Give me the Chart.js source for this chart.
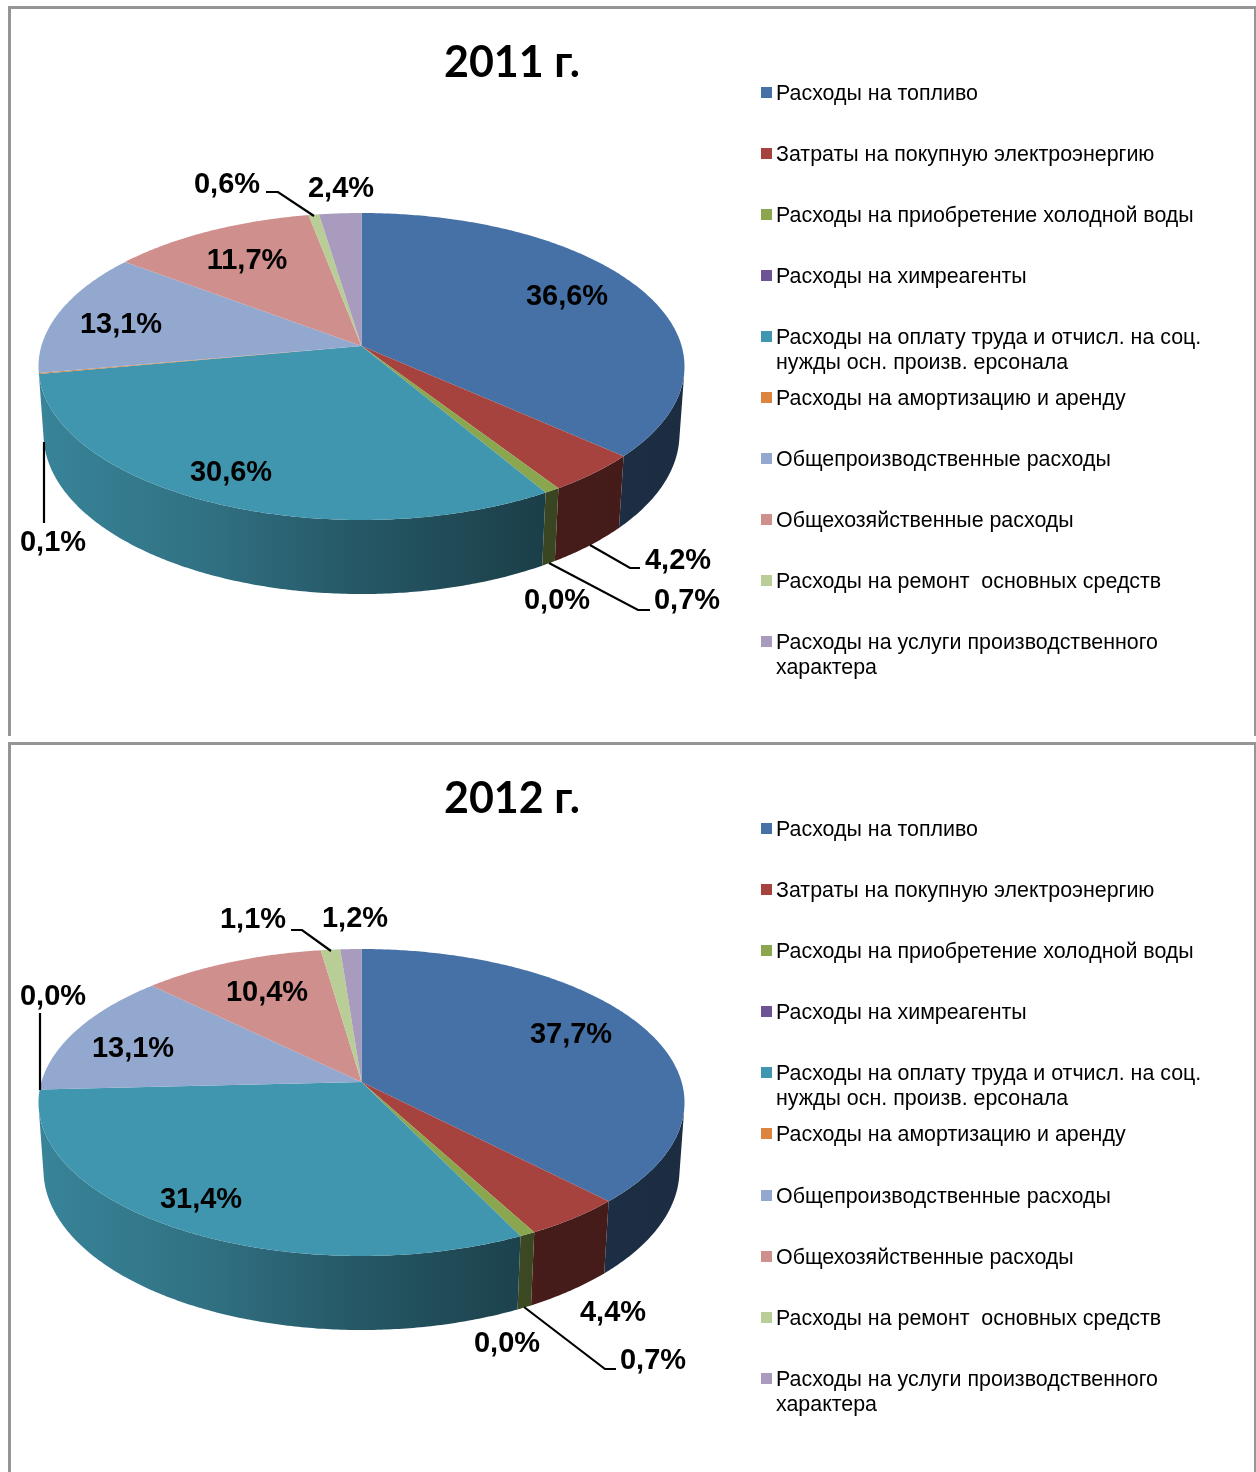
<!DOCTYPE html>
<html lang="ru"><head><meta charset="utf-8">
<style>
html,body{margin:0;padding:0;background:#fff;width:1256px;height:1472px;overflow:hidden}
.panel{position:absolute;left:8px;width:1243px;height:727px;border:3px solid #959595;border-bottom:none}
canvas{position:absolute;left:0}
</style>
<script src="https://cdn.jsdelivr.net/npm/chart.js@4/dist/chart.umd.min.js"></script>
</head><body>
<div class="panel" style="top:6px"></div>
<div class="panel" style="top:742px"></div>
<canvas id="c2011" width="1256" height="736" style="top:0"></canvas>
<canvas id="c2012" width="1256" height="736" style="top:736px"></canvas>
<script>
const categories = [
  'Расходы на топливо',
  'Затраты на покупную электроэнергию',
  'Расходы на приобретение холодной воды',
  'Расходы на химреагенты',
  'Расходы на оплату труда и отчисл. на соц. нужды осн. произв. ерсонала',
  'Расходы на амортизацию и аренду',
  'Общепроизводственные расходы',
  'Общехозяйственные расходы',
  'Расходы на ремонт  основных средств',
  'Расходы на услуги производственного характера'
];
const legendLines = [
  ['Расходы на топливо'],
  ['Затраты на покупную электроэнергию'],
  ['Расходы на приобретение холодной воды'],
  ['Расходы на химреагенты'],
  ['Расходы на оплату труда и отчисл. на соц.', 'нужды осн. произв. ерсонала'],
  ['Расходы на амортизацию и аренду'],
  ['Общепроизводственные расходы'],
  ['Общехозяйственные расходы'],
  ['Расходы на ремонт  основных средств'],
  ['Расходы на услуги производственного', 'характера']
];
const values2011 = [36.6, 4.2, 0.7, 0.0, 30.6, 0.1, 13.1, 11.7, 0.6, 2.4];
const values2012 = [37.7, 4.4, 0.7, 0.0, 31.4, 0.0, 13.1, 10.4, 1.1, 1.2];
const colors = ['#4571A6','#A6433F','#8AA64E','#6F5495','#4096AE','#DB843D','#92A8CE','#CF8F8D','#B9CD96','#A99BBD'];

// Layout only: label centres and leader lines, in panel coordinates
const labelPos2011 = [[567,297],[678,561],[687,601],[557,601],[231,473],[53,543],[121,325],[247,261],[227,185],[341,189]];
const labelPos2012 = [[571,299],[613,577],[653,625],[507,608],[201,464],[53,261],[133,313],[267,257],[253,184],[355,183]];
const leaders2011 = [[[590,545],[630,568],[640,568]],[[549,563],[638,610],[650,610]],[[44,442],[44,523]],[[266,192],[278,192],[314,216]]];
const leaders2012 = [[[524,571],[605,633],[616,633]],[[40,277],[40,354]],[[291,194],[302,194],[331,215]]];
const legendY2011 = [93,154,215,276,337,398,459,520,581,642];
const legendY2012 = [93,154,215,276,337,398,460,521,582,643];

const GEO = {ryTop:0.4752, kTop:-0.1336, rxBottom:0.9845, ryBottom:0.4954, dyBottom:67.5, kBottom:-0.13};

function shade(hex, f){
  const n = parseInt(hex.slice(1),16);
  return `rgb(${Math.round((n>>16&255)*f)},${Math.round((n>>8&255)*f)},${Math.round((n&255)*f)})`;
}
function rim(el, a, bottom){
  const x = Math.cos(a), y = Math.sin(a), R = el.outerRadius;
  const k = bottom ? GEO.kBottom : GEO.kTop;
  const rx = R * (bottom ? GEO.rxBottom : 1) * Math.sqrt(1-k*k);
  const ry = R * (bottom ? GEO.ryBottom : GEO.ryTop);
  const cy = el.y + (bottom ? GEO.dyBottom : 0);
  return [el.x + rx*x/(1+k*y), cy + ry*(y+k)/(1+k*y)];
}
class Pie3DArc extends Chart.ArcElement {
  static id = 'pie3dArc';
  drawWall(ctx){
    if(!(this.endAngle>this.startAngle)) return;
    const R = this.outerRadius, g = ctx.createLinearGradient(this.x-R,0,this.x+R,0);
    const c = this.options.backgroundColor;
    [[0,.88],[.25,.76],[.5,.58],[.78,.42],[1,.4]].forEach(([t,f])=>g.addColorStop(t,shade(c,f)));
    const s = this.startAngle, e = this.endAngle, n = Math.max(2, Math.ceil((e-s)/0.01));
    ctx.beginPath();
    for(let i=0;i<n;i++){
      const a0 = s+(e-s)*i/n, a1 = s+(e-s)*(i+1)/n;
      const q = [rim(this,a0,false), rim(this,a1,false), rim(this,a1,true), rim(this,a0,true)];
      let area = 0;
      q.forEach((p,j)=>{const r=q[(j+1)%4]; area += p[0]*r[1]-r[0]*p[1];});
      if(area>=0) continue; // back-facing part of the wall is hidden
      q.forEach(([x,y],j)=> j?ctx.lineTo(x,y):ctx.moveTo(x,y));
      ctx.closePath();
    }
    ctx.fillStyle = g; ctx.fill();
  }
  draw(ctx){
    if(!(this.endAngle>this.startAngle)) return;
    const apex = [this.x, this.y + this.outerRadius*GEO.ryTop*GEO.kTop];
    const s = this.startAngle, e = this.endAngle, n = Math.max(2, Math.ceil((e-s)/0.01));
    ctx.beginPath(); ctx.moveTo(apex[0],apex[1]);
    for(let i=0;i<=n;i++){ const [x,y] = rim(this, s+(e-s)*i/n, false); ctx.lineTo(x,y); }
    ctx.closePath();
    ctx.fillStyle = this.options.backgroundColor; ctx.fill();
  }
}
class Pie3DController extends Chart.DoughnutController {
  static id = 'pie3d';
  static defaults = Object.assign({}, Chart.DoughnutController.defaults, {dataElementType:'pie3dArc'});
  draw(){
    const ctx = this.chart.ctx;
    this._cachedMeta.data.forEach(el=>el.drawWall(ctx));
    super.draw();
  }
}
Chart.register(Pie3DArc, Pie3DController);

const decor = {
  id:'decor',
  afterDraw(chart, _a, o){
    const ctx = chart.ctx;
    ctx.save();
    ctx.textBaseline='middle';
    ctx.fillStyle='#000'; ctx.textAlign='center';
    ctx.font='bold 43px Lato, Carlito, sans-serif';
    ctx.fillText(o.title, 512, 63);
    ctx.strokeStyle='#000'; ctx.lineWidth=2.2; ctx.lineJoin='miter';
    o.leaders.forEach(l=>{ctx.beginPath();l.forEach(([x,y],i)=>i?ctx.lineTo(x,y):ctx.moveTo(x,y));ctx.stroke();});
    ctx.font='bold 29px "Liberation Sans", Arial, sans-serif';
    chart.data.datasets[0].data.forEach((v,i)=>{
      ctx.fillText(v.toFixed(1).replace('.',',')+'%', o.labels[i][0], o.labels[i][1]);
    });
    ctx.textAlign='left';
    ctx.font='21.4px "Liberation Sans", Arial, sans-serif';
    legendLines.forEach((lines,i)=>{
      const y = o.legendY[i];
      ctx.fillStyle=colors[i]; ctx.fillRect(761,y-6,11,11);
      ctx.fillStyle='#000';
      lines.forEach((t,j)=>ctx.fillText(t,776,y+1+j*25));
    });
    ctx.restore();
  }
};
function makeChart(id, title, values, labels, leaders, legendY){
  return new Chart(document.getElementById(id),{
    type:'pie3d',
    data:{labels:categories, datasets:[{data:values, backgroundColor:colors, borderWidth:0}]},
    options:{
      responsive:false, animation:false, events:[],
      cutout:0, rotation:0,
      layout:{padding:{left:38.5,right:571.5,top:0,bottom:3}},
      plugins:{legend:{display:false},tooltip:{enabled:false},title:{display:false},
        decor:{title,labels,leaders,legendY}}
    },
    plugins:[decor]
  });
}
makeChart('c2011','2011 г.',values2011,labelPos2011,leaders2011,legendY2011);
makeChart('c2012','2012 г.',values2012,labelPos2012,leaders2012,legendY2012);
</script>
</body></html>
